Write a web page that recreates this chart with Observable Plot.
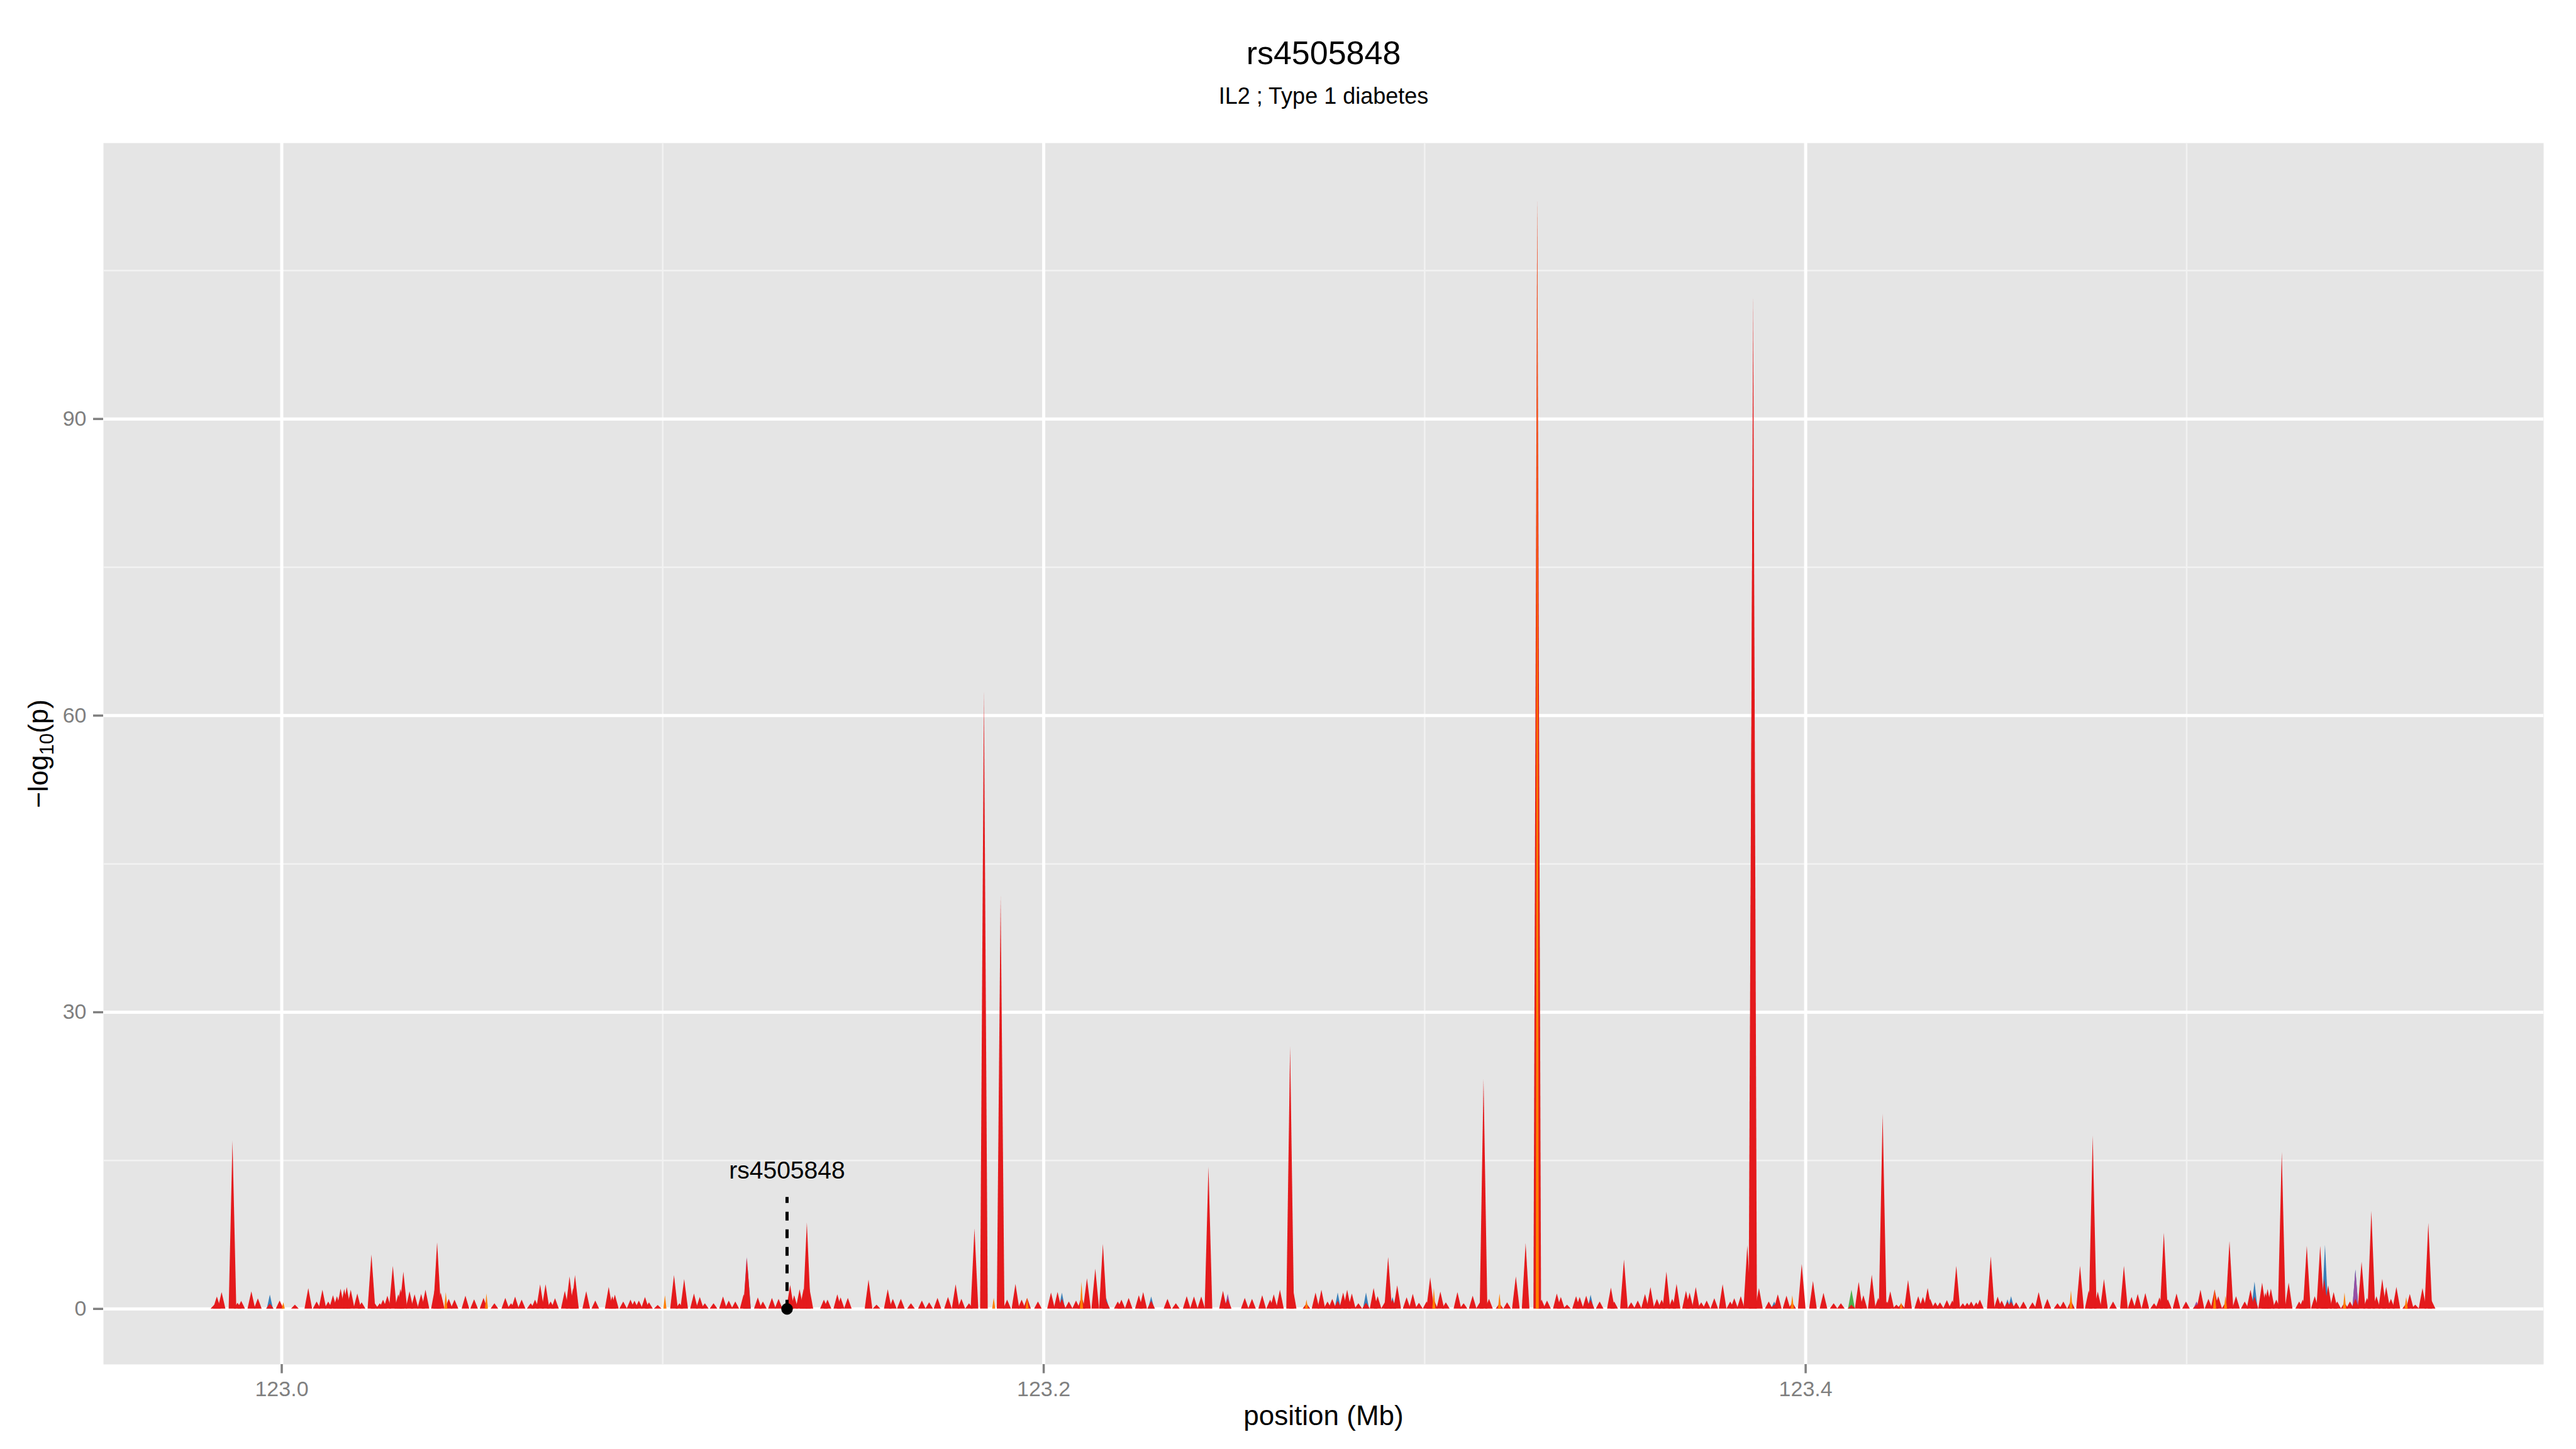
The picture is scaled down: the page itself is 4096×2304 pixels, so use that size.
<!DOCTYPE html>
<html><head><meta charset="utf-8">
<script src="https://cdn.jsdelivr.net/npm/d3@7"></script>
<script src="https://cdn.jsdelivr.net/npm/@observablehq/plot@0.6"></script>
<style>
html,body{margin:0;padding:0;background:#fff;}
#chart{width:4096px;height:2304px;}
</style></head><body><div id="chart"></div>
<script>
// ---- text ----
const titleText = "rs4505848";
const subtitleText = "IL2 ; Type 1 diabetes";
const xLabel = "position (Mb)";
const yLabel = "−log10(p)";

// ---- scales / ticks ----
const xTicks = [123.0, 123.2, 123.4];
const xMinor = [123.1, 123.3, 123.5];
const yTicks = [0, 30, 60, 90];
const yMinor = [15, 45, 75, 105];
const xDomain = [122.9532, 123.5937];
const yDomain = [-5.615, 117.9];

// ---- lead SNP annotation ----
const leadSnp = {name: "rs4505848", pos: 123.13263, p: 0, lineTop: 11.28, labelY: 13.2};

// ---- association signal: [position (Mb), -log10(p)] ----
const redSeries = [
[122.98239,0.40],[122.98305,1.23],[122.98429,1.66],[122.98715,17.0],[122.98848,0.58],[122.98943,0.78],[122.99210,1.75],[122.99381,1.03],[122.99696,0.50],[122.99953,0.81],
[123.00353,0.40],[123.00705,2.06],[123.00924,0.72],[123.01076,1.90],[123.01229,0.72],[123.01353,1.35],[123.01457,1.26],[123.01553,2.02],[123.01648,1.99],[123.01714,2.17],
[123.01819,1.90],[123.01991,1.53],[123.02105,0.63],[123.02362,5.49],[123.02448,0.54],[123.02581,0.54],[123.02667,0.90],[123.02781,1.30],[123.02924,4.33],[123.03067,1.44],
[123.03124,1.99],[123.03200,3.74],[123.03362,1.75],[123.03495,1.44],[123.03667,1.48],[123.03781,1.90],[123.04029,2.06],[123.04086,6.71],[123.04181,1.62],[123.04391,0.99],
[123.04543,0.90],[123.04829,1.30],[123.05057,0.94],[123.05305,1.08],[123.05590,0.54],[123.05876,1.08],[123.06028,0.54],[123.06133,1.21],[123.06305,0.90],[123.06543,0.54],
[123.06657,0.90],[123.06790,2.44],[123.06933,2.47],[123.07066,0.72],[123.07181,1.05],[123.07438,1.80],[123.07562,3.25],[123.07657,2.08],[123.07705,3.38],[123.08000,1.77],
[123.08238,0.81],[123.08590,2.20],[123.08685,1.26],[123.08752,1.41],[123.08971,0.72],[123.09162,0.90],[123.09266,0.79],[123.09381,0.81],[123.09542,1.17],[123.09647,0.63],
[123.09876,0.36],[123.10304,3.39],[123.10447,0.54],[123.10571,2.98],[123.10828,1.52],[123.10981,1.17],[123.11114,0.54],[123.11342,0.54],[123.11590,1.23],[123.11742,0.81],
[123.11913,0.72],[123.12133,1.44],[123.12218,5.10],[123.12504,1.12],[123.12637,0.72],[123.12875,1.08],
[123.13049,0.99],[123.13353,2.38],[123.13458,1.35],[123.13601,1.95],[123.13706,2.00],[123.13791,8.70],[123.13858,2.06],[123.14239,0.90],[123.14334,0.90],[123.14591,1.44],
[123.14677,1.12],[123.14867,1.08],[123.15410,2.92],[123.15620,0.40],[123.15915,1.95],[123.16048,0.99],[123.16258,0.99],[123.16524,0.54],[123.16810,0.81],[123.17001,0.63],
[123.17220,1.08],[123.17496,1.17],[123.17696,2.47],[123.17848,0.99],[123.18048,0.54],[123.18191,8.10],[123.18439,62.5],[123.18877,41.7],[123.19048,0.90],[123.19267,2.49],
[123.19429,0.90],[123.19572,1.08],[123.19857,0.72],[123.20200,1.62],[123.20372,1.68],[123.20486,1.00],[123.20667,0.72],[123.20857,0.81],[123.21000,1.20],[123.21143,3.07],
[123.21362,4.03],[123.21562,6.53],[123.21648,0.80],[123.21953,0.72],[123.22048,0.90],[123.22238,1.08],[123.22505,1.35],[123.22619,1.66],[123.22829,0.80],[123.23257,0.99],
[123.23476,0.54],[123.23762,1.26],[123.23952,1.23],[123.24143,1.23],[123.24333,14.35],[123.24714,1.80],[123.24838,1.00],[123.25286,1.08],[123.25476,0.99],[123.25743,1.35],
[123.25952,0.90],[123.26047,1.44],[123.26209,1.90],[123.26476,26.5],[123.26543,2.17],[123.26905,0.50],[123.27143,1.62],
[123.27297,1.90],[123.27458,0.72],[123.27582,0.99],[123.27725,0.80],[123.27868,1.62],[123.27973,1.90],[123.28096,1.53],[123.28268,0.54],[123.28468,0.60],[123.28668,2.08],
[123.28773,1.26],[123.28963,0.63],[123.29049,5.23],[123.29163,0.90],[123.29287,2.35],[123.29534,1.14],[123.29696,1.50],[123.29858,0.58],[123.30058,0.72],[123.30153,3.16],
[123.30249,0.90],[123.30420,1.71],[123.30563,0.63],[123.30868,1.66],[123.31030,0.54],[123.31268,1.30],[123.31458,0.63],[123.31553,23.2],[123.31696,0.99],[123.31972,0.50],
[123.32172,0.63],[123.32401,3.25],[123.32658,6.62],[123.32963,112.3],[123.33077,0.90],[123.33220,0.81],[123.33477,1.53],[123.33582,1.17],[123.33744,0.40],[123.33982,1.26],
[123.34077,1.17],[123.34248,1.30],[123.34363,0.90],[123.34601,0.72],[123.34896,2.13],[123.34982,0.72],[123.35239,4.96],[123.35429,0.63],[123.35601,0.81],[123.35791,1.48],
[123.35934,2.17],[123.36105,0.99],[123.36229,0.90],[123.36353,3.74],[123.36505,0.99],[123.36620,2.49],[123.36867,1.80],[123.36962,1.62],[123.37124,2.17],[123.37267,0.63],
[123.37410,0.81],[123.37610,1.05],[123.37829,2.47],[123.38029,0.72],[123.38134,1.05],[123.38305,1.26],[123.38477,6.41],[123.38612,84.0],[123.38629,102.5],[123.38782,2.08],
[123.39039,0.72],[123.39182,0.40],[123.39277,1.44],[123.39505,1.30],[123.39657,0.60],[123.39905,4.51],[123.40200,2.80],[123.40476,1.59],[123.40743,0.54],[123.40933,0.54],
[123.41210,0.40],[123.41400,2.70],[123.41524,1.35],[123.41743,3.43],[123.41914,1.08],[123.42029,19.7],[123.42143,0.72],
[123.42229,1.75],[123.42391,0.40],[123.42515,0.50],[123.42696,2.89],[123.42963,1.26],[123.43086,1.17],[123.43210,2.08],[123.43277,0.99],[123.43410,0.63],[123.43534,0.63],
[123.43715,0.85],[123.43858,0.81],[123.43962,4.33],[123.44134,0.54],[123.44248,0.58],[123.44353,0.72],[123.44486,0.63],[123.44581,0.90],[123.44867,5.27],[123.45048,1.21],
[123.45153,0.81],[123.45305,0.70],[123.45400,0.70],[123.45534,0.63],[123.45724,0.72],[123.45962,0.63],[123.46124,1.66],[123.46353,0.99],[123.46619,0.54],[123.46772,0.72],
[123.46972,0.80],[123.47210,4.33],[123.47438,1.84],[123.47543,17.5],[123.47676,1.71],[123.47838,2.98],[123.48077,0.72],[123.48362,4.33],[123.48562,1.17],[123.48724,1.48],
[123.48924,1.57],[123.49153,0.54],[123.49295,1.12],[123.49410,7.67],[123.49515,0.94],[123.49743,1.53],[123.49991,0.72],[123.50267,0.40],[123.50371,1.90],[123.50581,0.99],
[123.50743,1.93],[123.50838,1.26],[123.51028,0.60],[123.51133,6.82],[123.51305,1.26],[123.51533,0.72],[123.51685,1.90],[123.51790,1.20],[123.51990,2.62],[123.52076,1.62],
[123.52133,1.99],[123.52219,2.02],[123.52362,0.90],[123.52505,15.83],[123.52686,2.62],[123.52962,0.72],[123.53057,0.90],[123.53162,6.35],[123.53371,1.26],[123.53514,6.32],
[123.53619,3.00],[123.53724,2.35],[123.53867,1.66],[123.53962,0.72],[123.54152,0.60],[123.54295,0.72],[123.54438,1.00],[123.54600,4.73],[123.54743,1.08],[123.54857,9.87],
[123.54990,1.26],[123.55143,2.98],[123.55247,2.20],[123.55371,0.99],[123.55514,2.20],[123.55771,0.50],[123.55866,1.48],[123.56009,0.40],[123.56199,2.08],[123.56352,8.66],
[123.56438,0.81]
];
const blueSeries = [
[122.99696,1.41],[123.12240,4.00],[123.20486,1.62],[123.21648,1.08],[123.22829,1.23],[123.27725,1.62],[123.28468,1.62],[123.29163,1.17],
[123.34363,1.39],[123.39182,0.72],[123.42050,5.00],[123.45305,0.94],[123.45400,1.26],[123.51790,2.74],[123.53640,6.46],[123.54438,3.97]
];
const purpleSeries = [[123.12210,5.25],[123.24838,1.50],[123.50267,0.72],[123.54438,3.90]];
const greenSeries = [[123.41210,1.90]];
const orangeSeries = [
[123.00048,0.63],[123.04314,1.66],[123.05381,1.53],[123.10066,1.35],[123.18696,1.08],[123.19572,1.08],[123.21000,2.70],[123.26905,0.90],[123.30249,2.06],
[123.31972,1.53],[123.32963,112.3],[123.39657,1.35],[123.42515,0.63],[123.46972,1.84],[123.50743,1.93],[123.51028,1.30],[123.54152,1.62],[123.55771,1.17]
];

// ---- build spike polygons (each value drawn as a filled peak down to zero) ----
function peaks(series, key, hw) {
  return series.flatMap(([x, y], i) => [
    {x: x - hw, y: 0, id: key + i},
    {x: x, y: y, id: key + i},
    {x: x + hw, y: 0, id: key + i}
  ]);
}
const layer = (series, key, color, hw) =>
  Plot.areaY(peaks(series, key, hw), {x: "x", y: "y", z: "id", fill: color, curve: "linear"});

const plot = Plot.plot({
  width: 4096, height: 2304,
  marginTop: 227, marginBottom: 135, marginLeft: 164, marginRight: 52,
  x: {domain: xDomain},
  y: {domain: yDomain},
  style: {fontFamily: "'Liberation Sans', Arial, Helvetica, sans-serif", background: "#ffffff"},
  marks: [
    Plot.frame({fill: "#e5e5e5", stroke: null}),
    Plot.ruleX(xMinor, {stroke: "#f2f2f2", strokeWidth: 2.5}),
    Plot.ruleY(yMinor, {stroke: "#f2f2f2", strokeWidth: 2.5}),
    Plot.ruleX(xTicks, {stroke: "#ffffff", strokeWidth: 5}),
    Plot.ruleY(yTicks, {stroke: "#ffffff", strokeWidth: 5}),
    layer(blueSeries, "b", "#377EB8", 0.0008),
    layer(purpleSeries, "p", "#984EA3", 0.0008),
    layer(greenSeries, "g", "#4DAF4A", 0.0009),
    layer(redSeries, "r", "#E41A1C", 0.001),
    layer(orangeSeries, "o", "#FF7F00", 0.0004),
    Plot.ruleX([leadSnp], {x: "pos", y1: "p", y2: "lineTop", stroke: "#000", strokeWidth: 5, strokeDasharray: "14,14"}),
    Plot.dot([leadSnp], {x: "pos", y: "p", r: 9.2, fill: "#000", stroke: null}),
    Plot.text([leadSnp], {x: "pos", y: "labelY", text: "name", fontSize: 39, lineAnchor: "middle", dy: -12.5, fill: "#000"}),
    Plot.axisX({ticks: xTicks, tickFormat: d => d.toFixed(1), tickSize: 14.5, tickPadding: 12, fontSize: 34, color: "#7f7f7f", strokeWidth: 3.5, label: null}),
    Plot.axisY({ticks: yTicks, tickSize: 16, tickPadding: 11, fontSize: 34, color: "#7f7f7f", strokeWidth: 3.5, label: null}),
    Plot.text([titleText], {text: d => d, frameAnchor: "top", dy: -141.8, fontSize: 52, lineAnchor: "middle", fill: "#000"}),
    Plot.text([subtitleText], {text: d => d, frameAnchor: "top", dy: -73.6, fontSize: 36, lineAnchor: "middle", fill: "#000"}),
    Plot.text([xLabel], {text: d => d, frameAnchor: "bottom", dy: 82, fontSize: 44, lineAnchor: "middle", fill: "#000"}),
    Plot.text([yLabel], {text: d => d, frameAnchor: "left", dx: -103, rotate: -90, fontSize: 44, lineAnchor: "middle", textAnchor: "middle", fill: "#000"})
  ]
});

// subscript "10" in the y-axis title
d3.select(plot).selectAll("text").filter(function() { return this.textContent === yLabel; }).each(function() {
  const t = d3.select(this);
  t.text(null);
  t.append("tspan").text("−log");
  t.append("tspan").attr("font-size", "31").attr("dy", "9").text("10");
  t.append("tspan").attr("dy", "-9").text("(p)");
});

document.getElementById("chart").appendChild(plot);
</script>
</body></html>
